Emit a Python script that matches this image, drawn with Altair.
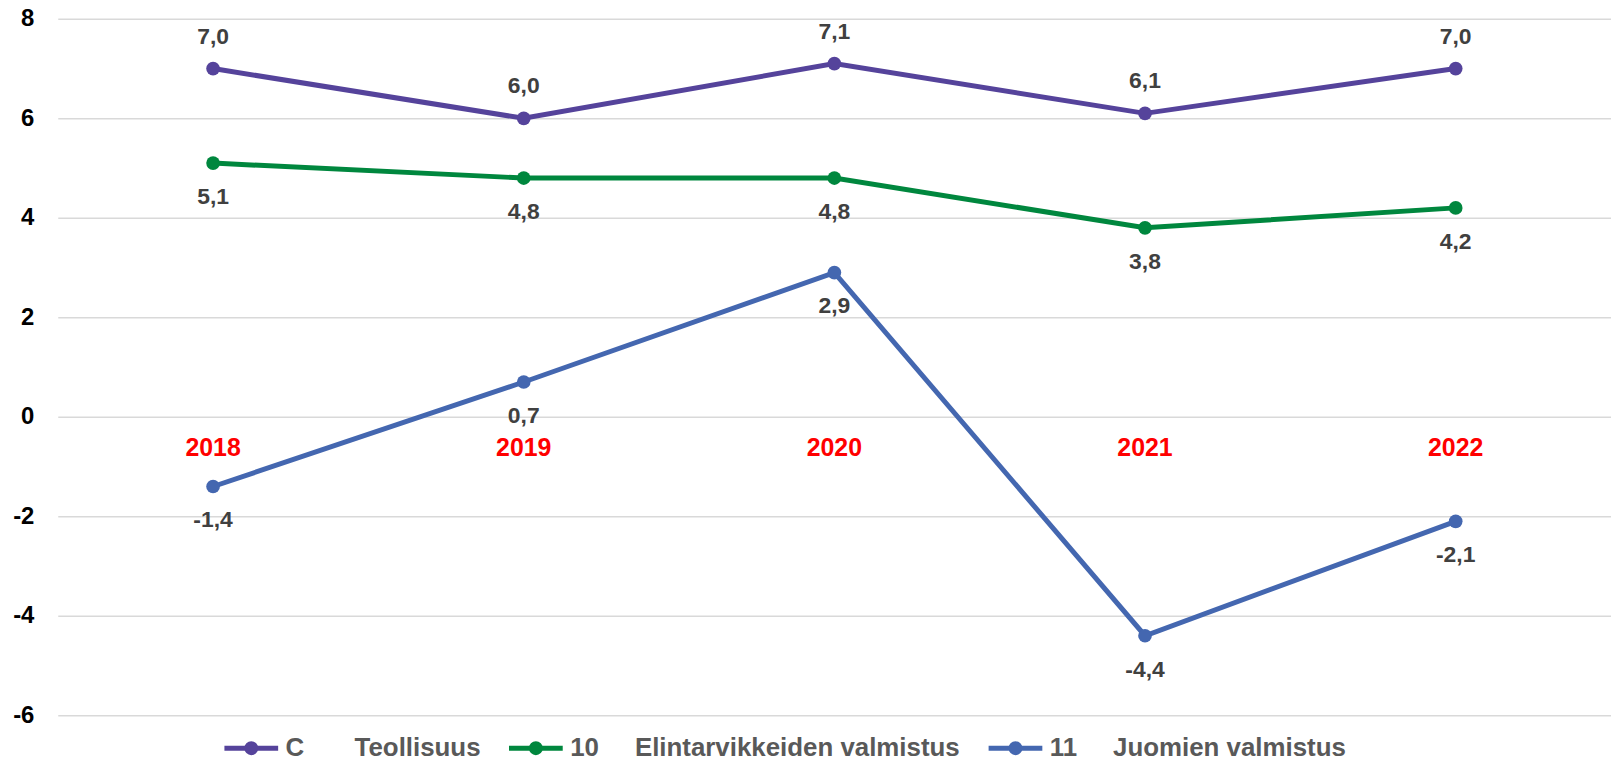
import altair as alt
import pandas as pd

NB = "\u00a0"

years = ["2018", "2019", "2020", "2021", "2022"]
series_names = [
    "C" + NB * 7 + "Teollisuus",
    "10" + NB * 5 + "Elintarvikkeiden valmistus",
    "11" + NB * 5 + "Juomien valmistus",
]
c_vals = [7.0, 6.0, 7.1, 6.1, 7.0]
food_vals = [5.1, 4.8, 4.8, 3.8, 4.2]
drink_vals = [-1.4, 0.7, 2.9, -4.4, -2.1]
colors = ["#55439B", "#00873E", "#4467B0"]
y_ticks = [-6, -4, -2, 0, 2, 4, 6, 8]

rows = []
for name, vals in zip(series_names, [c_vals, food_vals, drink_vals]):
    for yr, v in zip(years, vals):
        rows.append({"year": yr, "series": name, "value": v,
                     "label": f"{v:.1f}".replace(".", ","),
                     "above": name == series_names[0]})
df = pd.DataFrame(rows)
years_df = pd.DataFrame({"year": years})

FONT = "Liberation Sans"

x_enc = alt.X("year:N", scale=alt.Scale(type="point", padding=0.5, domain=years), axis=None)
y_enc = alt.Y(
    "value:Q",
    scale=alt.Scale(domain=[-6, 8], nice=False, zero=False),
    axis=alt.Axis(values=y_ticks, title=None, ticks=False, tickSize=0, domain=False,
                  labelFont=FONT, labelFontSize=24, labelFontWeight="bold",
                  labelColor="#000000", labelPadding=24,
                  labelExpr="'' + datum.value",
                  grid=True, gridColor="#d9d9d9", gridWidth=1.5),
)

legend_path = ("M-1,0L1,0"
               "M-0.1667,0A0.1667,0.1667,0,1,0,0.1667,0A0.1667,0.1667,0,1,0,-0.1667,0Z"
               "M-0.0556,0A0.0556,0.0556,0,1,0,0.0556,0A0.0556,0.0556,0,1,0,-0.0556,0Z")

color_scale = alt.Scale(domain=series_names, range=colors)

line = alt.Chart(df).mark_line(strokeWidth=5).encode(
    x=x_enc, y=y_enc,
    color=alt.Color("series:N", scale=color_scale, sort=series_names,
                    legend=alt.Legend(
                        title=None, orient="none", legendX=165, legendY=703,
                        direction="horizontal", symbolType=legend_path,
                        symbolSize=2916, symbolStrokeWidth=5,
                        labelFont=FONT, labelFontSize=26, labelFontWeight="bold",
                        labelColor="#595959", labelOffset=5, columnPadding=18,
                        labelLimit=0)),
)

points = alt.Chart(df).mark_circle(size=190, opacity=1).encode(
    x=x_enc, y="value:Q",
    color=alt.Color("series:N", scale=color_scale, legend=None),
)

lab_above = alt.Chart(df).transform_filter("datum.above").mark_text(
    font=FONT, fontSize=23, fontWeight="bold", color="#404040", dy=-32, baseline="middle"
).encode(x=x_enc, y="value:Q", text="label:N")

lab_below = alt.Chart(df).transform_filter("!datum.above").mark_text(
    font=FONT, fontSize=23, fontWeight="bold", color="#404040", dy=34, baseline="middle"
).encode(x=x_enc, y="value:Q", text="label:N")

year_labels = alt.Chart(years_df).mark_text(
    font=FONT, fontSize=25, fontWeight="bold", color="#FF0000", dy=31, baseline="middle"
).encode(x=x_enc, y=alt.datum(0), text="year:N")

chart = alt.layer(line, points, lab_above, lab_below, year_labels).properties(
    width=1561, height=700,
    autosize=alt.AutoSizeParams(type="none"),
    padding={"left": 50, "top": 9, "right": 0, "bottom": 42},
    background="white",
).configure_view(stroke=None)

chart.save("out.html", embed_options={"renderer": "svg", "actions": False})
